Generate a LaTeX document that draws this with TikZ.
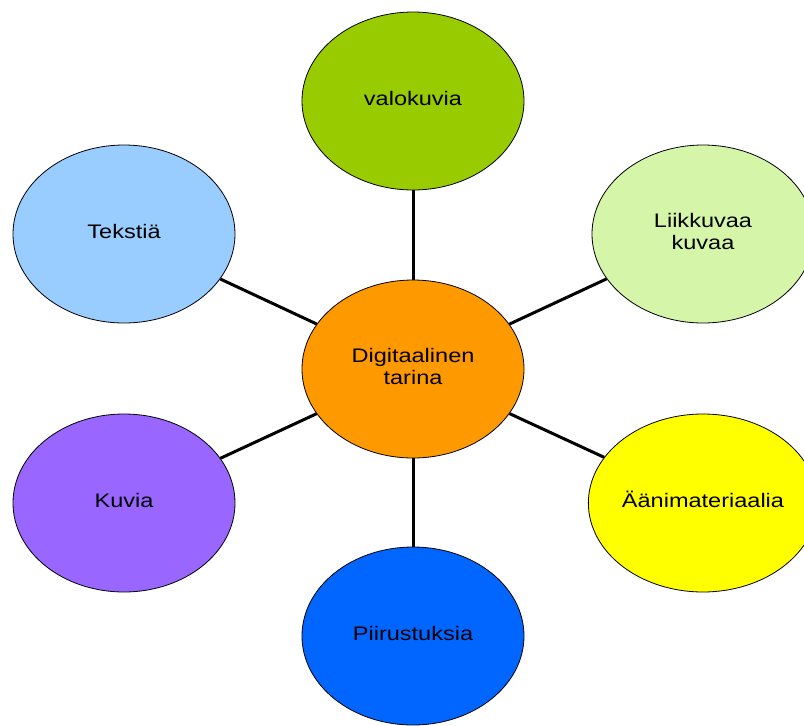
\documentclass[tikz,border=0pt]{standalone}
\usepackage{fontspec}
\setmainfont{Liberation Sans}
\usetikzlibrary{shapes.geometric}
\definecolor{cgreen}{HTML}{99CC00}
\definecolor{clightblue}{HTML}{99CCFF}
\definecolor{clightgreen}{HTML}{D5F6A8}
\definecolor{corange}{HTML}{FF9900}
\definecolor{cyellow}{HTML}{FFFF00}
\definecolor{cpurple}{HTML}{9966FF}
\definecolor{cblue}{HTML}{0066FF}
% labels are set a little wider than tall
\newcommand{\lbl}[1]{\raisebox{-3pt}{\scalebox{1.2}[1]{\begin{tabular}{@{}c@{}}#1\end{tabular}}}}
\begin{document}
\begin{tikzpicture}[x=1pt,y=-1pt,
  bubble/.style={ellipse,draw=black,line width=0.8pt,minimum width=222pt,minimum height=178pt,inner sep=0pt,
    font=\fontsize{19.6}{22}\selectfont},
  link/.style={line width=3pt,black}]
\useasboundingbox (0,0) rectangle (804,726);
\node[bubble,fill=corange] (hub) at (413,369) {\lbl{Digitaalinen\\tarina}};
\node[bubble,fill=cgreen] (valo) at (413,101) {\lbl{valokuvia}};
\node[bubble,fill=clightblue] (teksti) at (124,234) {\lbl{Tekstiä}};
\node[bubble,fill=clightgreen] (liikkuva) at (703,234) {\lbl{Liikkuvaa\\kuvaa}};
\node[bubble,fill=cpurple] (kuvia) at (124,503) {\lbl{Kuvia}};
\node[bubble,fill=cyellow] (aani) at (703,503) {\lbl{Äänimateriaalia}};
\node[bubble,fill=cblue] (piirus) at (413,636) {\lbl{Piirustuksia}};
\foreach \n in {valo,teksti,liikkuva,kuvia,aani,piirus}
  \draw[link] (hub) -- (\n);
\end{tikzpicture}
\end{document}
